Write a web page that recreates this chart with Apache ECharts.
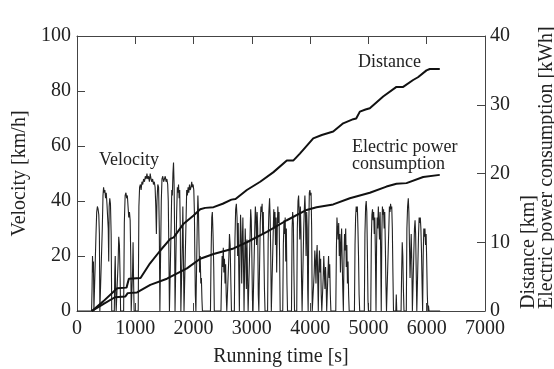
<!DOCTYPE html>
<html>
<head>
    <meta charset="UTF-8">
    <title>Running test</title>
    <script type="text/javascript" src="https://cdn.jsdelivr.net/npm/echarts@6/dist/echarts.min.js"></script>
    <style>
        html, body { margin: 0; padding: 0; background: #fff; }
        #main { width: 554px; height: 369px; }
    </style>
</head>
<body>
<div id="main"></div>
<script type="text/javascript">
    // x axis ticks
    var timeTicks = [0, 1000, 2000, 3000, 4000, 5000, 6000, 7000];

    // velocity trace [time s, km/h]
    var velocity = [
        [0,0],[250,0],[258,8],[266,20],[274,14],[282,18],[290,0],[318,0],[326,28],[338,36],[350,38],[362,37],[374,35],[384,28],[392,0],
        [425,0],[434,30],[446,42],[456,45],[468,43],[478,44],[490,41],[502,43],[514,39],[526,34],[536,30],[544,18],[552,38],[562,41],[574,39],[586,28],[596,0],
        [640,0],[648,14],[656,20],[664,8],[672,0],[696,0],[706,18],[716,27],[728,24],[740,12],[748,0],
        [800,0],[812,32],[826,42],[840,43],[852,41],[864,42],[876,38],[888,34],[900,36],[912,33],[922,20],[930,0],[946,0],[954,15],[962,25],[970,12],[980,0],
        [1050,0],[1062,38],[1074,45],[1088,46],[1100,44],[1114,47],[1128,46],[1142,48],[1158,47],[1172,49],[1186,48],[1200,50],[1214,48],[1228,49],[1242,47],[1256,50],[1270,48],[1284,47],[1298,48],[1312,46],[1326,47],[1340,45],[1352,38],[1362,28],[1372,40],[1386,46],[1400,45],[1412,30],[1422,0],
        [1436,0],[1446,40],[1458,48],[1472,49],[1486,47],[1500,48],[1514,49],[1528,47],[1542,48],[1556,46],[1566,40],[1576,22],[1586,0],
        [1604,0],[1614,30],[1626,44],[1636,42],[1646,50],[1656,54],[1666,46],[1674,30],[1682,0],
        [1700,0],[1710,36],[1722,45],[1732,43],[1742,46],[1752,41],[1762,44],[1772,30],[1782,0],[1798,0],[1806,24],[1816,38],[1826,20],[1836,0],
        [1860,0],[1870,32],[1882,44],[1894,42],[1906,45],[1918,43],[1930,46],[1942,44],[1956,45],[1968,47],[1980,45],[1992,46],[2004,44],[2014,36],[2022,20],[2030,6],[2040,0],
        [2052,0],[2062,30],[2074,42],[2084,36],[2094,24],[2104,14],[2114,20],[2124,10],[2134,12],[2144,4],[2152,0],
        [2290,0],[2300,20],[2312,34],[2322,36],[2334,28],[2346,16],[2356,0],
        [2470,0],[2480,12],[2490,20],[2500,16],[2510,23],[2520,14],[2530,19],[2540,10],[2550,17],[2560,6],[2570,0],
        [2596,0],[2606,20],[2616,28],[2628,24],[2640,10],[2650,0],
        [2700,0],[2710,26],[2722,37],[2734,39],[2746,34],[2756,20],[2766,32],[2776,14],[2786,0],[2796,22],[2806,35],[2816,28],[2826,10],[2836,24],[2846,34],[2856,18],[2866,0],[2876,16],[2886,30],[2896,22],[2906,8],[2916,26],[2926,12],[2936,0],
        [2960,0],[2970,28],[2980,37],[2990,33],[3000,20],[3010,4],[3020,0],
        [3040,0],[3050,30],[3060,38],[3070,34],[3080,24],[3090,36],[3100,30],[3110,6],[3120,0],
        [3134,0],[3144,32],[3156,38],[3166,36],[3176,39],[3186,28],[3196,36],[3206,22],[3216,8],[3226,0],
        [3270,0],[3280,26],[3292,36],[3304,41],[3314,34],[3324,20],[3334,0],
        [3356,0],[3366,28],[3376,37],[3386,30],[3396,36],[3406,24],[3416,34],[3426,14],[3436,30],[3446,38],[3456,32],[3466,36],[3476,20],[3486,0],
        [3530,0],[3540,24],[3552,33],[3562,28],[3572,34],[3582,18],[3592,30],[3602,10],[3612,0],
        [3680,0],[3690,30],[3700,36],[3712,32],[3722,14],[3732,0],
        [3770,0],[3780,30],[3792,40],[3802,42],[3812,36],[3822,26],[3832,38],[3842,30],[3852,12],[3862,0],
        [3880,0],[3890,30],[3900,37],[3910,42],[3920,35],[3930,20],[3940,36],[3950,30],[3958,8],[3966,0],
        [3976,30],[3986,43],[3996,44],[4006,42],[4016,43],[4026,30],[4036,0],
        [4060,0],[4070,14],[4080,22],[4090,18],[4100,10],[4110,20],[4120,24],[4130,12],[4140,0],[4150,16],[4160,22],[4170,14],[4180,19],[4190,6],[4200,0],
        [4214,0],[4224,12],[4234,20],[4244,14],[4254,8],[4264,16],[4274,10],[4284,0],[4296,0],[4306,14],[4316,20],[4326,12],[4336,17],[4346,6],[4356,0],
        [4440,0],[4450,22],[4460,34],[4470,30],[4480,26],[4490,32],[4500,20],[4510,28],[4520,14],[4530,24],[4540,30],[4550,18],[4560,8],[4570,0],
        [4580,18],[4590,28],[4600,22],[4610,30],[4620,16],[4630,24],[4640,10],[4650,18],[4660,6],[4670,0],
        [4760,0],[4770,24],[4780,34],[4790,38],[4800,36],[4810,38],[4820,30],[4830,20],[4840,6],[4850,0],
        [4930,0],[4940,28],[4952,38],[4962,40],[4972,36],[4982,22],[4992,4],[5000,0],
        [5040,0],[5050,26],[5060,35],[5070,37],[5080,33],[5090,36],[5100,28],[5110,34],[5120,20],[5130,0],
        [5140,24],[5150,34],[5160,30],[5170,38],[5180,32],[5190,26],[5200,36],[5210,22],[5220,0],
        [5230,28],[5240,38],[5250,35],[5260,37],[5270,30],[5280,36],[5290,24],[5300,10],[5310,0],
        [5340,0],[5350,30],[5360,38],[5370,36],[5380,39],[5390,37],[5400,38],[5410,30],[5420,14],[5430,0],
        [5470,0],[5478,6],[5486,0],[5560,0],[5570,14],[5580,25],[5590,20],[5600,8],[5610,0],
        [5650,0],[5660,30],[5672,38],[5684,41],[5694,36],[5704,24],[5714,12],[5724,20],[5734,28],[5744,18],[5754,0],
        [5770,0],[5780,22],[5790,30],[5800,33],[5810,28],[5820,14],[5830,0],
        [5850,0],[5860,28],[5870,34],[5880,32],[5890,34],[5900,30],[5910,22],[5920,10],[5930,0],
        [5940,20],[5950,30],[5960,27],[5970,30],[5980,24],[5990,28],[6000,18],[6010,6],[6020,0],[6030,2],[6040,0],[6230,0]
    ];

    // cumulative distance [time s, km]
    var distance = [
        [257,0],[450,1.4],[690,3.3],[850,3.4],[890,4.7],[1090,4.8],[1250,6.9],[1429,8.8],[1600,10.5],[1660,10.7],
        [1829,12.7],[2000,13.9],[2114,14.8],[2200,15.0],[2343,15.1],[2500,15.6],[2650,16.2],[2720,16.3],[2914,17.6],
        [3143,18.8],[3371,20.2],[3600,21.9],[3714,21.9],[3824,22.9],[4053,25.1],[4200,25.6],[4396,26.1],[4567,27.3],
        [4739,27.9],[4790,28.0],[4853,29.0],[4950,29.3],[5024,29.5],[5253,31.2],[5481,32.6],[5596,32.6],[5767,33.6],
        [5850,34.0],[5996,35.0],[6053,35.2],[6224,35.2]
    ];

    // cumulative electric power consumption [time s, kWh]
    var energy = [
        [257,0],[450,1.0],[650,2.0],[830,2.1],[870,2.6],[1030,2.7],[1257,3.8],[1543,4.7],[1886,6.2],[2114,7.6],
        [2343,8.3],[2686,9.1],[2914,10.0],[3257,11.5],[3600,13.2],[3939,14.7],[4110,15.1],[4396,15.5],[4681,16.4],
        [5024,17.2],[5310,18.1],[5481,18.5],[5653,18.6],[5939,19.5],[6224,19.8]
    ];

    var serif = 'Liberation Serif';
    var axisColor = '#444';
    var tickStyle = {show: true, inside: true, length: 8, lineStyle: {color: axisColor}};
    var labelStyle = {fontFamily: serif, fontSize: 20, color: '#222'};

    var myChart = echarts.init(document.getElementById('main'));
    var option = {
        animation: false,
        backgroundColor: '#fff',
        grid: {left: 77, right: 69, top: 36, bottom: 58, containLabel: false, outerBoundsMode: 'none'},
        xAxis: [{
            type: 'value', min: timeTicks[0], max: timeTicks[timeTicks.length - 1], interval: 1000,
            name: 'Running time [s]', nameLocation: 'middle', nameGap: 36,
            nameTextStyle: labelStyle,
            axisLine: {show: true, onZero: false, lineStyle: {color: axisColor}},
            axisTick: tickStyle,
            axisLabel: {fontFamily: serif, fontSize: 20, color: '#222', margin: 8,
                formatter: function (v) { return String(v); }},
            splitLine: {show: false}
        }, {
            type: 'value', position: 'top', min: 0, max: 7000, interval: 1000,
            axisLine: {show: true, onZero: false, lineStyle: {color: axisColor}},
            axisTick: tickStyle,
            axisLabel: {show: false},
            splitLine: {show: false}
        }],
        yAxis: [{
            type: 'value', min: 0, max: 100, interval: 20, position: 'left',
            name: 'Velocity [km/h]', nameLocation: 'middle', nameGap: 47,
            nameTextStyle: labelStyle,
            axisLine: {show: true, onZero: false, lineStyle: {color: axisColor}},
            axisTick: tickStyle,
            axisLabel: {fontFamily: serif, fontSize: 20, color: '#222', margin: 6},
            splitLine: {show: false}
        }, {
            type: 'value', min: 0, max: 40, interval: 10, position: 'right',
            axisLine: {show: true, onZero: false, lineStyle: {color: axisColor}},
            axisTick: tickStyle,
            axisLabel: {fontFamily: serif, fontSize: 20, color: '#222', margin: 5},
            splitLine: {show: false}
        }],
        series: [{
            name: 'Velocity', type: 'line', xAxisIndex: 0, yAxisIndex: 0,
            data: velocity, showSymbol: false,
            lineStyle: {color: '#222', width: 1.1}
        }, {
            name: 'Distance', type: 'line', yAxisIndex: 1,
            data: distance, showSymbol: false,
            lineStyle: {color: '#111', width: 2}
        }, {
            name: 'Electric power consumption', type: 'line', yAxisIndex: 1,
            data: energy, showSymbol: false,
            lineStyle: {color: '#111', width: 2}
        }],
        graphic: [
            {type: 'text', left: 99, top: 151, style: {text: 'Velocity', font: '18px ' + serif, fill: '#222'}},
            {type: 'text', left: 358, top: 53, style: {text: 'Distance', font: '18px ' + serif, fill: '#222'}},
            {type: 'text', left: 352, top: 138, style: {text: 'Electric power\nconsumption', font: '18px ' + serif, lineHeight: 17, fill: '#222'}},
            {type: 'text', x: 529, y: 309, rotation: Math.PI / 2,
                style: {text: 'Distance [km]', font: '20px ' + serif, fill: '#222', align: 'left', verticalAlign: 'middle'}},
            {type: 'text', x: 547, y: 309, rotation: Math.PI / 2,
                style: {text: 'Electric power consumption [kWh]', font: '20px ' + serif, fill: '#222', align: 'left', verticalAlign: 'middle'}}
        ]
    };
    myChart.setOption(option);
</script>
</body>
</html>
